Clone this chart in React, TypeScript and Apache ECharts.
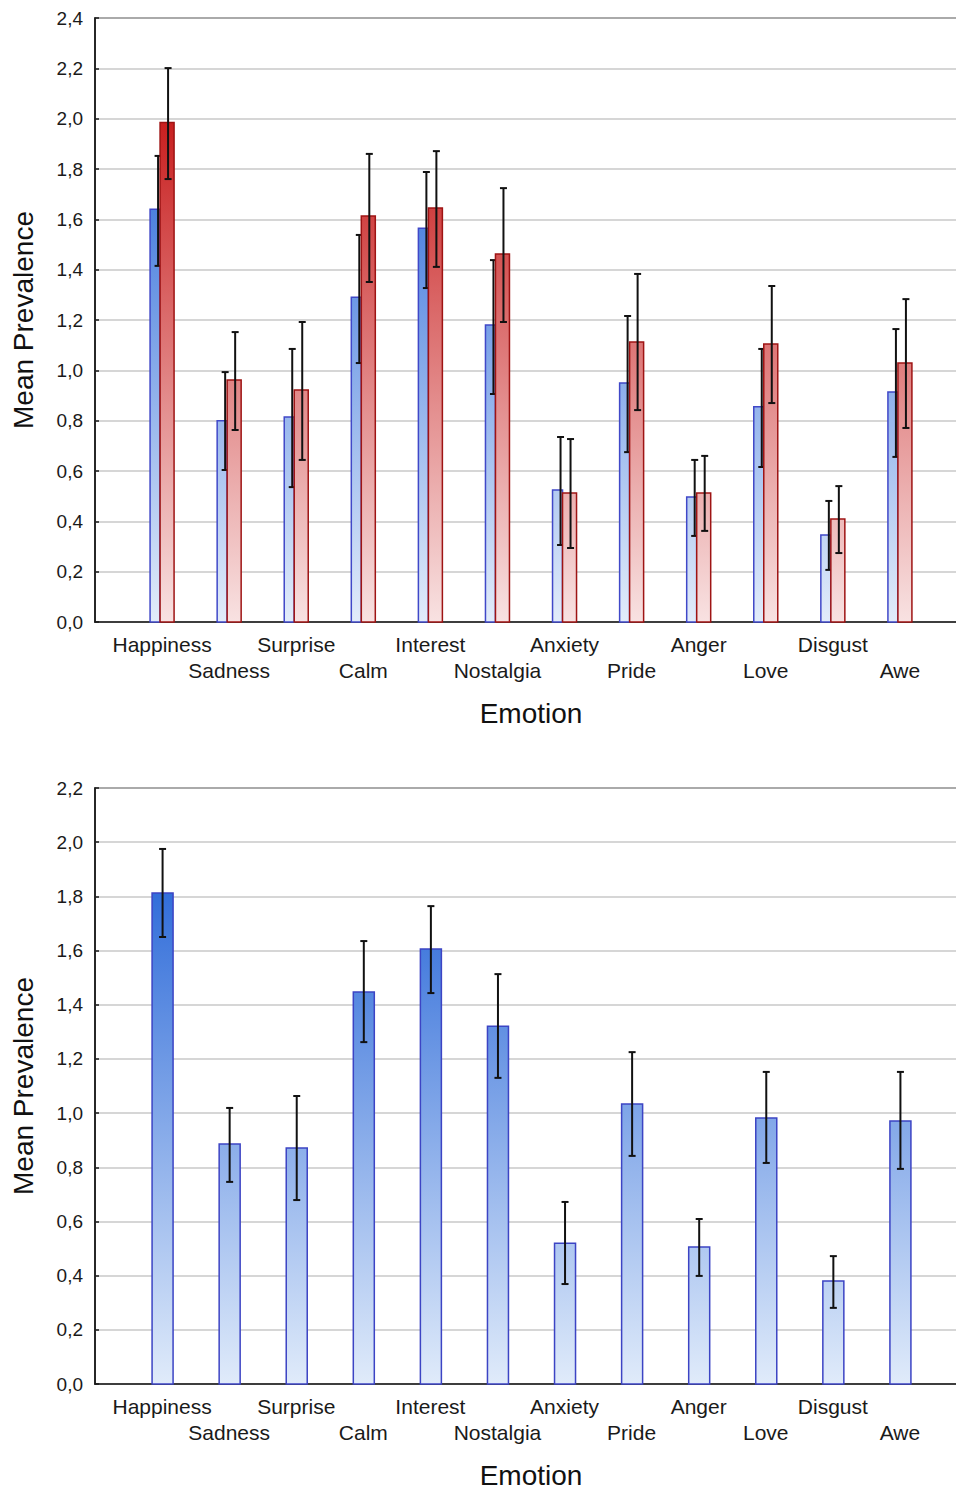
import React, { useEffect, useRef } from "react";
import * as echarts from "echarts";

const categories = ["Happiness", "Sadness", "Surprise", "Calm", "Interest", "Nostalgia", "Anxiety", "Pride", "Anger", "Love", "Disgust", "Awe"];

// Top chart: blue group
const topBlueMean = [1.64, 0.80, 0.815, 1.29, 1.565, 1.18, 0.525, 0.95, 0.497, 0.855, 0.346, 0.914];
const topBlueLow = [1.415, 0.604, 0.536, 1.029, 1.327, 0.906, 0.306, 0.675, 0.342, 0.616, 0.207, 0.656];
const topBlueHigh = [1.852, 0.993, 1.085, 1.538, 1.788, 1.438, 0.735, 1.216, 0.644, 1.085, 0.481, 1.164];
// Top chart: red group
const topRedMean = [1.985, 0.962, 0.922, 1.613, 1.645, 1.462, 0.513, 1.113, 0.513, 1.105, 0.409, 1.029];
const topRedLow = [1.760, 0.763, 0.644, 1.351, 1.411, 1.192, 0.294, 0.842, 0.362, 0.870, 0.274, 0.771];
const topRedHigh = [2.201, 1.152, 1.192, 1.860, 1.871, 1.724, 0.727, 1.383, 0.660, 1.335, 0.540, 1.283];
// Bottom chart
const botMean = [1.812, 0.886, 0.871, 1.447, 1.606, 1.321, 0.520, 1.034, 0.506, 0.982, 0.380, 0.971];
const botLow = [1.650, 0.746, 0.679, 1.262, 1.443, 1.130, 0.369, 0.842, 0.399, 0.816, 0.281, 0.794];
const botHigh = [1.975, 1.019, 1.063, 1.635, 1.764, 1.513, 0.672, 1.225, 0.609, 1.152, 0.472, 1.152];

const topTicksMax = 2.4;
const botTicksMax = 2.2;

const paddedCats = ["", ...categories, ""];

const FONT = "'Liberation Sans', Arial, sans-serif";

function makeSeries(
  mean: number[], low: number[], high: number[], axisIndex: number,
  barL: number, barR: number, errX: number,
  colTop: string, colBot: string, border: string, gradMax: number, name: string
) {
  return {
    type: "custom",
    name,
    xAxisIndex: axisIndex,
    yAxisIndex: axisIndex,
    encode: { x: 0, y: 1 },
    data: mean.map((m, i) => [i + 1, m, low[i], high[i]]),
    renderItem: (params: any, api: any) => {
      const x = api.value(0);
      const v = api.value(1);
      const lo = api.value(2);
      const hi = api.value(3);
      const top = api.coord([x, v]);
      const base = api.coord([x, 0]);
      const gTop = api.coord([x, gradMax])[1];
      const pLo = api.coord([x, lo])[1];
      const pHi = api.coord([x, hi])[1];
      const cx = top[0];
      const ex = cx + errX;
      const grad = new echarts.graphic.LinearGradient(0, gTop, 0, base[1], [
        { offset: 0, color: colTop },
        { offset: 1, color: colBot },
      ], true);
      return {
        type: "group",
        children: [
          {
            type: "rect",
            shape: { x: cx + barL, y: top[1], width: barR - barL, height: base[1] - top[1] },
            style: { fill: grad, stroke: border, lineWidth: 1.5 },
          },
          { type: "line", shape: { x1: ex, y1: pHi, x2: ex, y2: pLo }, style: { stroke: "#111", lineWidth: 2 } },
          { type: "line", shape: { x1: ex - 3.5, y1: pHi, x2: ex + 3.5, y2: pHi }, style: { stroke: "#111", lineWidth: 2 } },
          { type: "line", shape: { x1: ex - 3.5, y1: pLo, x2: ex + 3.5, y2: pLo }, style: { stroke: "#111", lineWidth: 2 } },
        ],
      };
    },
  };
}

function xAxisFor(gridIndex: number) {
  return {
    type: "category",
    gridIndex,
    data: paddedCats,
    boundaryGap: false,
    axisLine: { show: true, lineStyle: { color: "#1a1a1a", width: 1.5 } },
    axisTick: { show: false },
    splitLine: { show: false },
    axisLabel: {
      interval: 0,
      margin: 9,
      color: "#1a1a1a",
      fontFamily: FONT,
      fontSize: 21,
      lineHeight: 26,
      showMinLabel: true,
      showMaxLabel: true,
      formatter: (val: string, idx: number) => (idx % 2 === 1 ? val : "\n" + val),
    },
    name: "Emotion",
    nameLocation: "middle",
    nameGap: 77,
    nameTextStyle: { color: "#111", fontFamily: FONT, fontSize: 28 },
  };
}

function yAxisFor(gridIndex: number, max: number) {
  return {
    type: "value",
    gridIndex,
    min: 0,
    max,
    interval: 0.2,
    axisLine: { show: true, lineStyle: { color: "#1a1a1a", width: 1.5 } },
    axisTick: { show: true, inside: true, length: 4, lineStyle: { color: "#1a1a1a", width: 1.5 } },
    splitLine: { show: true, lineStyle: { color: "#c8c8c8", width: 1.5 } },
    axisLabel: {
      margin: 12,
      color: "#1a1a1a",
      fontFamily: FONT,
      fontSize: 19,
      formatter: (v: number) => v.toFixed(1).replace(".", ","),
    },
    name: "Mean Prevalence",
    nameLocation: "middle",
    nameRotate: 90,
    nameGap: 58,
    nameTextStyle: { color: "#111", fontFamily: FONT, fontSize: 28 },
  };
}

export default function App() {
  const ref = useRef<HTMLDivElement>(null);
  useEffect(() => {
    if (!ref.current) return;
    const chart = echarts.init(ref.current, undefined, { renderer: "svg" });
    chart.setOption({
      animation: false,
      backgroundColor: "#ffffff",
      grid: [
        { left: 95, top: 18, width: 872, height: 604, show: true, borderColor: "#1a1a1a", borderWidth: 1.5, backgroundColor: "transparent" },
        { left: 95, top: 788, width: 872, height: 596, show: true, borderColor: "#1a1a1a", borderWidth: 1.5, backgroundColor: "transparent" },
      ],
      xAxis: [xAxisFor(0), xAxisFor(1)],
      yAxis: [yAxisFor(0, topTicksMax), yAxisFor(1, botTicksMax)],
      series: [
        makeSeries(topBlueMean, topBlueLow, topBlueHigh, 0, -12, -2, -4, "#2d6ad9", "#e2ecfa", "#4048c8", 2.0, "Group A"),
        makeSeries(topRedMean, topRedLow, topRedHigh, 0, -2, 12, 6, "#c81e1e", "#f8e2e2", "#9e1414", 2.0, "Group B"),
        makeSeries(botMean, botLow, botHigh, 1, -10, 11, 0.5, "#2a68d8", "#e0ebfa", "#3c44c4", 1.9, "All"),
      ],
    });
    return () => chart.dispose();
  }, []);
  return (
    <div style={{ position: "absolute", left: 0, top: 0, width: 956, height: 1491, overflow: "hidden", background: "#fff" }}>
      <div ref={ref} style={{ width: 985, height: 1491 }} />
    </div>
  );
}
